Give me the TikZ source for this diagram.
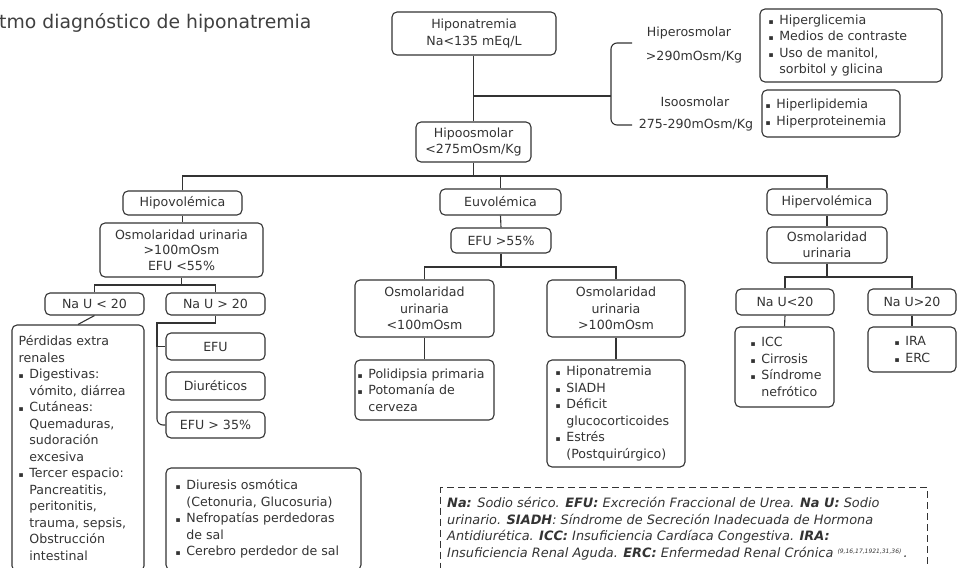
\documentclass[tikz,border=0pt]{standalone}
\usepackage{fontspec}
\setmainfont{DejaVu Sans}
\newfontfamily\symf{DejaVu Sans}
\usetikzlibrary{calc}
\definecolor{ink}{HTML}{333333}
\definecolor{ttl}{HTML}{404040}
\newcommand\bul{\makebox[0.85em][l]{\symf\fontsize{7.5}{7.5}\selectfont ▪}}
\newcommand\ind{\hspace*{0.85em}}
% centred box: name, x1, y1, x2, y2, text
\newcommand\BX[7][]{%
  \pgfmathsetmacro\bw{#5-#3}\pgfmathsetmacro\bh{#6-#4}%
  \pgfmathsetmacro\cx{(#3+#5)/2}\pgfmathsetmacro\cy{(#4+#6)/2}%
  \node[box,minimum width=\bw pt,minimum height=\bh pt,#1] (#2) at (\cx,\cy) {#7};}
% left aligned box: name, x1, y1, x2, y2, pad, text
\newcommand\BXL[8][]{%
  \pgfmathsetmacro\bw{#5-#3}\pgfmathsetmacro\bh{#6-#4}%
  \pgfmathsetmacro\cx{(#3+#5)/2}\pgfmathsetmacro\cy{(#4+#6)/2}%
  \node[box,minimum width=\bw pt,minimum height=\bh pt] (#2) at (\cx,\cy) {};
  \node[lbl,align=left,anchor=west,#1] (#2t) at ([xshift=#7 pt]#2.west) {#8};}
\begin{document}
\begin{tikzpicture}[x=1pt,y=-1pt,
  box/.style={draw=ink,line width=1.1pt,rounded corners=5pt,inner sep=2pt,align=center,text=ink,
    font=\fontsize{12.6}{16.5}\selectfont},
  lbl/.style={text=ink,inner sep=0pt,font=\fontsize{12.6}{16.5}\selectfont},
  conn/.style={draw=ink,line width=1.1pt},
  legbox/.style={draw=ink,line width=1.4pt,dash pattern=on 7pt off 4pt},
  legtxt/.style={text=ink,align=left,inner sep=0pt,font=\fontsize{12.9}{16.5}\selectfont\itshape}]
\useasboundingbox (0,0) rectangle (962,568);

\node[anchor=base west,text=ttl,inner sep=0pt,font=\fontsize{18.8}{22}\selectfont] (title) at (-1,28) {tmo diagnóstico de hiponatremia};

% top
\BX{hn}{392}{12}{556}{55}{Hiponatremia\\Na<135 mEq/L}
\BX{ho}{416}{122}{531}{162}{Hipoosmolar\\<275mOsm/Kg}
\draw[conn] (ho.north |- hn.south) -- (ho.north);
\coordinate (j1) at (473.5,96);
\coordinate (brk) at (611,96);
\coordinate (hyE) at (632,43);
\coordinate (isE) at (632,125);
\draw[conn] (j1) -- (brk);
\draw[conn,rounded corners=6pt] (hyE) -- (hyE -| brk) -- (isE -| brk) -- (isE);
\node[lbl] (hyper) at (689,33) {Hiperosmolar};
\node[lbl] (hyperv) at (694,57) {>290mOsm/Kg};
\node[lbl] (iso) at (695,102) {Isoosmolar};
\node[lbl] (isov) at (696,125) {275-290mOsm/Kg};
\BXL{hg}{760}{9}{942}{82}{9}{\bul Hiperglicemia\\\bul Medios de contraste\\\bul Uso de manitol,\\\ind sorbitol y glicina}
\BXL{hl}{762}{90}{900}{137}{4}{\bul Hiperlipidemia\\\bul Hiperproteinemia}

% main bus
\coordinate (ybus) at (0,176);
\BX{hv}{123}{191}{242}{215}{Hipovolémica}
\BX{eu}{440}{189}{561}{215}{Euvolémica}
\BX{hr}{767}{189}{887}{215}{Hipervolémica}
\draw[conn] (ho.south) -- (ho.south |- ybus);
\draw[conn] (hv.north) -- (hv.north |- ybus) -- (hr.north |- ybus) -- (hr.north);
\draw[conn] (eu.north |- ybus) -- (eu.north);

% hipovolemica branch
\BX[font=\fontsize{12.6}{15.5}\selectfont]{osa}{100}{223}{263}{277}{Osmolaridad urinaria\\>100mOsm\\EFU <55\%}
\draw[conn] (hv.south) -- (hv.south |- osa.north);
\BX{nu1}{45}{293}{144}{315}{Na U < 20}
\BX{nu2}{166}{293}{265}{315}{Na U > 20}
\coordinate (yb2) at (0,285);
\draw[conn] (osa.south) -- (osa.south |- yb2);
\draw[conn] (nu1.north) -- (nu1.north |- yb2) -- (nu2.north |- yb2) -- (nu2.north);
\BXL{per}{12}{325}{144}{571}{7}{Pérdidas extra\\renales\\\bul Digestivas:\\\ind vómito, diárrea\\\bul Cutáneas:\\\ind Quemaduras,\\\ind sudoración\\\ind excesiva\\\bul Tercer espacio:\\\ind Pancreatitis,\\\ind peritonitis,\\\ind trauma, sepsis,\\\ind Obstrucción\\\ind intestinal}
\draw[conn] (nu1.south) -- (per.north);
\BX{efu}{166}{333}{265}{360}{EFU}
\BX{diu}{166}{372}{265}{400}{Diuréticos}
\BX{efu3}{166}{412}{265}{438}{EFU > 35\%}
\coordinate (b2) at (157,323);
\draw[conn] (nu2.south) -- (nu2.south |- b2) -- (b2) -- (b2 |- efu.west) -- (efu.west);
\draw[conn,rounded corners=6pt] (b2 |- efu.west) -- (b2 |- efu3.west) -- (efu3.west);
\BXL{dos}{166}{468}{361}{570}{10}{\bul Diuresis osmótica\\\ind (Cetonuria, Glucosuria)\\\bul Nefropatías perdedoras\\\ind de sal\\\bul Cerebro perdedor de sal}

% euvolemica branch
\BX{efu5}{451}{228}{551}{253}{EFU >55\%}
\draw[conn] (eu.south) -- (efu5.north);
\BX{osl}{355}{280}{494}{337}{Osmolaridad\\urinaria\\<100mOsm}
\BX{osr}{547}{280}{685}{337}{Osmolaridad\\urinaria\\>100mOsm}
\coordinate (yb3) at (0,267);
\draw[conn] (efu5.south) -- (efu5.south |- yb3);
\draw[conn] (osl.north) -- (osl.north |- yb3) -- (osr.north |- yb3) -- (osr.north);
\BXL{pol}{355}{360}{494}{420}{3}{\bul Polidipsia primaria\\\bul Potomanía de\\\ind cerveza}
\draw[conn] (osl.south) -- (pol.north);
\BXL{sia}{547}{360}{685}{467}{9}{\bul Hiponatremia\\\bul SIADH\\\bul Déficit\\\ind glucocorticoides\\\bul Estrés\\\ind (Postquirúrgico)}
\draw[conn] (osr.south) -- (sia.north);

% hipervolemica branch
\BX{osh}{767}{227}{887}{263}{Osmolaridad\\urinaria}
\draw[conn] (hr.south) -- (osh.north);
\BX{nh1}{736}{289}{834}{315}{Na U<20}
\BX{nh2}{868}{289}{956}{315}{Na U>20}
\coordinate (yb4) at (0,277);
\draw[conn] (osh.south) -- (osh.south |- yb4);
\draw[conn] (nh1.north) -- (nh1.north |- yb4) -- (nh2.north |- yb4) -- (nh2.north);
\BXL{icc}{735}{327}{834}{407}{16}{\bul ICC\\\bul Cirrosis\\\bul Síndrome\\\ind nefrótico}
\BXL{ira}{868}{327}{956}{372}{27}{\bul IRA\\\bul ERC}
\draw[conn] (nh1.south) -- (icc.north);
\draw[conn] (nh2.south) -- (ira.north);

% legend
\node[legbox,minimum width=487pt,minimum height=95pt,inner sep=0pt] (leg) at (684,535) {};
\node[legtxt,anchor=north west] (legt) at (447,497) {%
\textbf{Na:} Sodio sérico. \textbf{EFU:} Excreción Fraccional de Urea. \textbf{Na U:} Sodio\\
urinario. \textbf{SIADH}: Síndrome de Secreción Inadecuada de Hormona\\
Antidiurética. \textbf{ICC:} Insuficiencia Cardíaca Congestiva. \textbf{IRA:}\\
Insuficiencia Renal Aguda. \textbf{ERC:} Enfermedad Renal Crónica {\fontsize{6}{6}\selectfont\raisebox{1.2ex}{(9,16,17,1921,31,36)}}\,.};
\end{tikzpicture}
\end{document}
